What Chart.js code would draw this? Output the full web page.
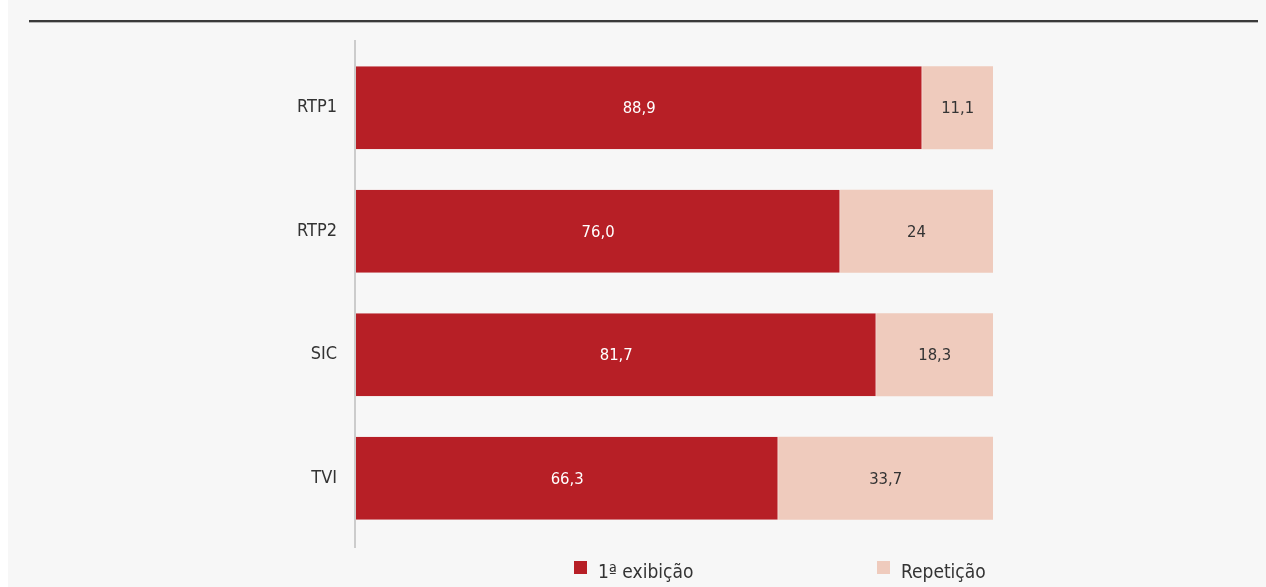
<!DOCTYPE html>
<html><head><meta charset="utf-8">
<script src="https://cdn.jsdelivr.net/npm/chart.js@4"></script>
<style>
html,body{margin:0;padding:0;background:#fff;width:1266px;height:587px;overflow:hidden;}
#panel{position:absolute;left:8px;top:0;width:1258px;height:587px;background:#f7f7f7;}
#rule{position:absolute;left:29px;top:20px;width:1229px;height:2px;background:#3a3a3a;}
#rule2{position:absolute;left:29px;top:22px;width:1229px;height:1px;background:#b5b5b5;}
#wrap{position:absolute;left:0;top:0;width:1266px;height:587px;}
</style></head>
<body>
<div id="panel"></div>
<div id="rule"></div>
<div id="rule2"></div>
<div id="wrap"><canvas id="c" width="1266" height="587"></canvas></div>
<script>
const categories = ["RTP1", "RTP2", "SIC", "TVI"];
const seriesNames = ["1ª exibição", "Repetição"];
const firstShowing = [88.9, 76.0, 81.7, 66.3];
const repetition = [11.1, 24, 18.3, 33.7];
const valueLabels1 = ["88,9", "76,0", "81,7", "66,3"];
const valueLabels2 = ["11,1", "24", "18,3", "33,7"];

const RED = "#b71f26", PINK = "#efcbbd";
const FONT = "'DejaVu Sans Condensed','DejaVu Sans',sans-serif";

const extras = {
  id: "extras",
  afterDatasetsDraw(chart) {
    const ctx = chart.ctx;
    const labels = [valueLabels1, valueLabels2];
    const colors = ["#ffffff", "#333333"];
    ctx.save();
    ctx.font = "16.5px " + FONT;
    ctx.textAlign = "center";
    ctx.textBaseline = "middle";
    chart.data.datasets.forEach((ds, di) => {
      chart.getDatasetMeta(di).data.forEach((el, i) => {
        const p = el.getProps(["x", "base", "y"], true);
        ctx.fillStyle = colors[di];
        ctx.fillText(labels[di][i], (p.x + p.base) / 2, p.y + 1);
      });
    });
    // axis line
    const x0 = chart.scales.x.getPixelForValue(0);
    ctx.fillStyle = "#cccccc";
    ctx.fillRect(x0 - 2, 40, 2, 508);
    // legend
    const items = [{x: 574, c: RED, t: seriesNames[0]}, {x: 877, c: PINK, t: seriesNames[1]}];
    ctx.font = "19px " + FONT;
    ctx.textAlign = "left";
    ctx.textBaseline = "alphabetic";
    items.forEach(it => {
      ctx.fillStyle = it.c;
      ctx.fillRect(it.x, 561, 13, 13);
      ctx.fillStyle = "#333333";
      ctx.fillText(it.t, it.x + 24, 578);
    });
    ctx.restore();
  }
};

new Chart(document.getElementById("c"), {
  type: "bar",
  data: {
    labels: categories,
    datasets: [
      {label: seriesNames[0], data: firstShowing, backgroundColor: RED, borderColor: "#e08a86", borderWidth: {right: 1}, borderSkipped: false},
      {label: seriesNames[1], data: repetition, backgroundColor: PINK, borderWidth: 0}
    ]
  },
  options: {
    indexAxis: "y",
    responsive: false,
    animation: false,
    devicePixelRatio: 1,
    layout: {padding: {left: 0, right: 273, top: 46, bottom: 47}},
    categoryPercentage: 1,
    barPercentage: 0.672,
    plugins: {legend: {display: false}, tooltip: {enabled: false}},
    scales: {
      x: {stacked: true, min: 0, max: 100, display: false},
      y: {
        stacked: true,
        grid: {display: false},
        border: {display: false},
        ticks: {color: "#333333", font: {family: FONT, size: 18}, padding: 11},
        afterFit(s) { s.width = 356; }
      }
    }
  },
  plugins: [extras]
});
</script>
</body></html>
